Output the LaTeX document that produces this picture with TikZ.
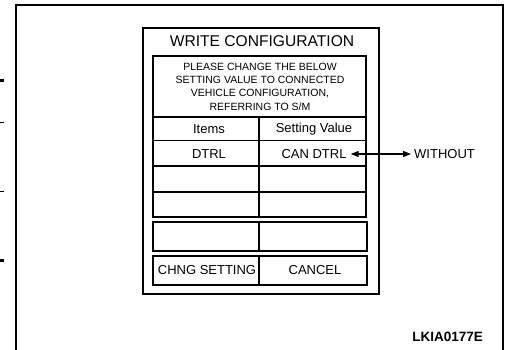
\documentclass[tikz,border=0pt]{standalone}
\usepackage{fontspec}
\setmainfont{Liberation Sans}
\usetikzlibrary{arrows.meta}
\begin{document}
\begin{tikzpicture}[x=1pt,y=-1pt,
  frame/.style={line width=2.6pt},
  boxline/.style={line width=2pt},
  cell/.style={line width=1.8pt},
  lbl/.style={inner sep=1pt,font=\fontsize{13}{15}\selectfont},
  small/.style={inner sep=0pt,align=center,font=\fontsize{10.5}{13.3}\selectfont},
  dblarrow/.style={line width=1.2pt,{Triangle[length=8pt,width=6pt]}-{Triangle[length=8pt,width=6pt]}}
]
\useasboundingbox (0,0) rectangle (505,349);
% page frame
\draw[frame] (16,351) -- (16,5) -- (503,5) -- (503,351);
% margin marks
\fill (0,78.5) rectangle (4,81.5);
\fill (0,121.5) rectangle (4,122.7);
\fill (0,190.5) rectangle (4,191.7);
\fill (0,258.5) rectangle (4,261.5);
% outer window
\draw[boxline] (143,28) rectangle (379,294);
\node[inner sep=0pt,font=\fontsize{15.6}{18}\selectfont] (title) at (262,41) {WRITE CONFIGURATION};
% inner box 1
\draw[cell] (153,56) rectangle (366,217);
\node[small] (msg) at (260,86.5) {PLEASE CHANGE THE BELOW\\SETTING VALUE TO CONNECTED\\VEHICLE CONFIGURATION,\\REFERRING TO S/M};
\draw[cell] (153,117) -- (366,117);
\draw[cell] (153,140.5) -- (366,140.5);
\draw[cell] (153,166) -- (366,166);
\draw[cell] (153,192) -- (366,192);
\draw[cell] (259,117) -- (259,217);
\node[lbl] (items) at (209,129) {Items};
\node[lbl] (setval) at (314,129) {Setting Value};
\node[lbl] (dtrl) at (209,154) {DTRL};
\node[lbl] (candtrl) at (314,154) {CAN DTRL};
% box 2
\draw[cell] (153,222) rectangle (367,251);
\draw[cell] (259,222) -- (259,251);
% box 3
\draw[cell] (153,256) rectangle (367,285);
\draw[cell] (259,256) -- (259,285);
\node[lbl] (chng) at (207,270.5) {CHNG SETTING};
\node[lbl] (cancel) at (315,270.5) {CANCEL};
% arrow and label
\node[lbl,anchor=west] (without) at (413,154) {WITHOUT};
\draw[dblarrow,shorten <=3pt,shorten >=2pt] (candtrl.east) -- (without.west);
% figure id
\node[inner sep=0pt,anchor=east,font=\bfseries\fontsize{13.5}{15}\selectfont] (figid) at (483,337) {LKIA0177E};
\end{tikzpicture}
\end{document}
